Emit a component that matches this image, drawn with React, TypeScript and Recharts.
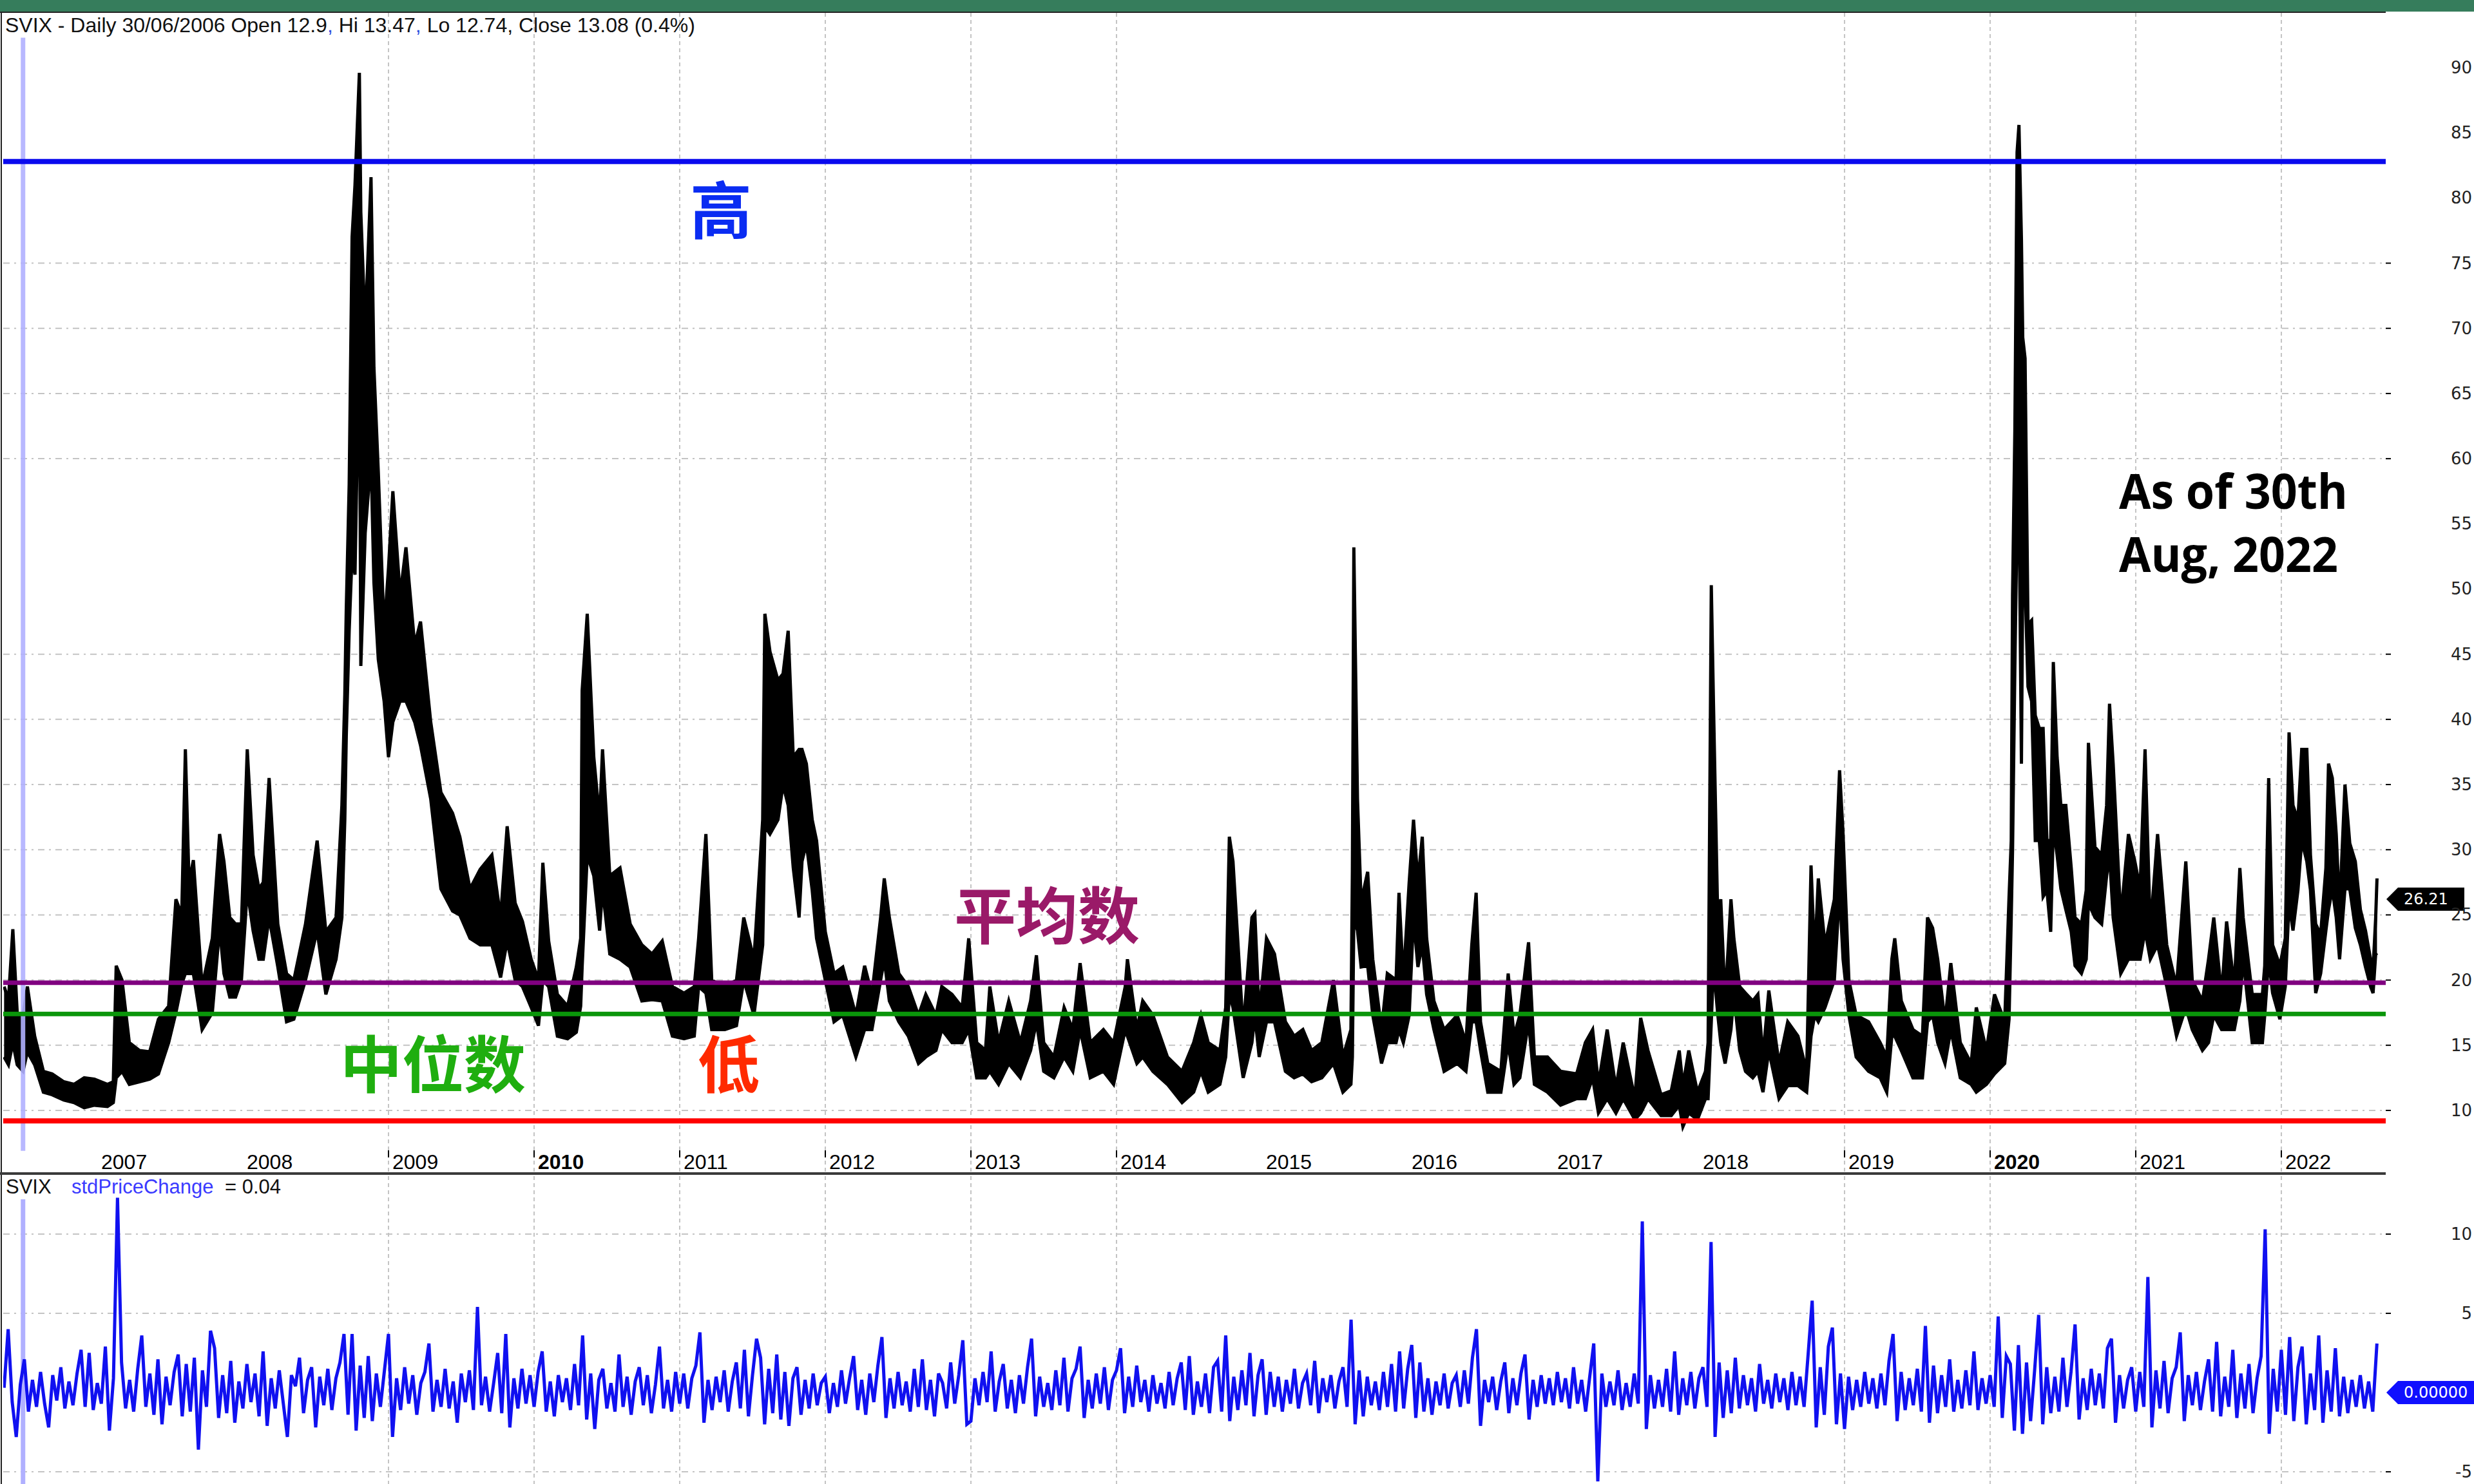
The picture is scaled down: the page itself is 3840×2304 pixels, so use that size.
import React from "react";
import { ComposedChart, Area, Line, XAxis, YAxis, ReferenceLine, ReferenceDot, CartesianGrid } from "recharts";

type Bar3 = [number, number, number]; // [date (decimal year), high, low]

const vix2006: Bar3[] = [
  [2006.36, 19.5, 14.1], [2006.39, 18.5, 13.5], [2006.42, 23.9, 15.2], [2006.45, 17.5, 13.5], [2006.49, 17.3, 13.0],
  [2006.52, 19.5, 14.5], [2006.57, 15.7, 13.5], [2006.63, 13.0, 11.4], [2006.69, 12.8, 11.2], [2006.77, 12.2, 10.8],
  [2006.84, 12.0, 10.6], [2006.91, 12.5, 10.2], [2006.98, 12.4, 10.4],
];
const vix2007: Bar3[] = [
  [2007.07, 12.0, 10.3], [2007.11, 12.2, 10.6], [2007.13, 21.1, 12.5], [2007.17, 20.0, 13.0], [2007.22, 15.2, 12.0],
  [2007.29, 14.6, 12.2], [2007.36, 14.5, 12.4], [2007.42, 17.0, 12.8], [2007.49, 18.0, 15.2], [2007.54, 26.2, 17.5],
  [2007.58, 25.0, 19.7], [2007.605, 37.7, 20.5], [2007.63, 27.5, 20.5], [2007.66, 29.2, 20.5], [2007.72, 19.5, 16.2],
  [2007.79, 23.2, 17.5], [2007.84, 31.2, 24.0], [2007.87, 29.1, 20.5], [2007.91, 24.8, 18.7], [2007.95, 24.3, 18.7],
  [2007.99, 24.3, 20.0],
];
const vix2008: Bar3[] = [
  [2008.03, 37.7, 26.9], [2008.07, 29.6, 23.8], [2008.11, 27.0, 21.6], [2008.14, 27.5, 21.6], [2008.18, 35.5, 24.8],
  [2008.24, 24.3, 21.0], [2008.30, 20.5, 16.8], [2008.35, 20.0, 17.0], [2008.43, 24.3, 20.0], [2008.51, 30.7, 23.8],
  [2008.57, 23.7, 18.9], [2008.64, 24.8, 21.6], [2008.68, 33.4, 24.8], [2008.70, 41.9, 32.3], [2008.71, 48.4, 38.7],
  [2008.73, 58.0, 46.8], [2008.75, 77.0, 52.7], [2008.77, 81.0, 51.1], [2008.80, 89.6, 69.8], [2008.81, 78.9, 44.1],
  [2008.84, 70.0, 54.3], [2008.88, 81.6, 60.0], [2008.90, 67.0, 50.5], [2008.93, 59.0, 44.6], [2008.97, 46.8, 41.4],
];
const vix2009: Bar3[] = [
  [2009.00, 51.6, 37.1], [2009.03, 57.5, 39.8], [2009.08, 49.5, 41.4], [2009.12, 53.2, 41.4], [2009.18, 45.7, 39.8],
  [2009.22, 47.5, 38.0], [2009.29, 39.8, 33.9], [2009.36, 34.4, 27.0], [2009.44, 32.8, 25.3], [2009.49, 31.0, 25.0],
  [2009.56, 27.0, 23.2], [2009.63, 28.5, 22.7], [2009.71, 29.6, 22.7], [2009.77, 24.8, 20.2], [2009.815, 31.8, 23.0],
  [2009.87, 25.9, 20.0], [2009.92, 24.5, 19.5], [2009.98, 21.6, 17.9],
];
const vix2010: Bar3[] = [
  [2010.03, 20.0, 16.5], [2010.06, 29.0, 20.0], [2010.10, 23.0, 19.5], [2010.16, 18.9, 15.7], [2010.23, 18.0, 15.5],
  [2010.29, 21.0, 16.0], [2010.32, 23.2, 18.0], [2010.33, 42.2, 21.0], [2010.365, 48.1, 29.6], [2010.41, 37.1, 28.0],
  [2010.45, 32.3, 23.8], [2010.47, 37.7, 27.0], [2010.52, 28.0, 22.0], [2010.59, 28.6, 21.6], [2010.66, 24.3, 21.0],
  [2010.74, 22.7, 18.4], [2010.81, 22.0, 18.5], [2010.88, 23.0, 18.4], [2010.95, 19.5, 15.7],
];
const vix2011: Bar3[] = [
  [2011.03, 19.0, 15.5], [2011.10, 19.5, 15.7], [2011.13, 23.2, 19.5], [2011.18, 31.2, 19.0], [2011.22, 20.0, 16.2],
  [2011.31, 19.5, 16.2], [2011.39, 20.0, 16.5], [2011.44, 24.8, 20.0], [2011.51, 21.6, 17.3], [2011.57, 32.3, 22.7],
  [2011.585, 48.1, 31.8], [2011.62, 45.2, 31.2], [2011.675, 43.0, 32.3], [2011.71, 43.5, 35.0], [2011.745, 46.8, 33.4],
  [2011.78, 37.1, 28.6], [2011.82, 37.7, 24.8], [2011.84, 37.7, 29.1], [2011.87, 36.6, 30.5], [2011.91, 32.3, 26.9],
  [2011.94, 30.7, 23.2],
];
const vix2012: Bar3[] = [
  [2012.00, 23.7, 20.0], [2012.06, 20.5, 16.8], [2012.12, 21.0, 17.3], [2012.21, 17.3, 14.1], [2012.27, 21.1, 16.2],
  [2012.32, 18.9, 16.2], [2012.38, 24.8, 20.0], [2012.405, 27.8, 21.6], [2012.44, 24.8, 18.4], [2012.505, 20.5, 16.8],
  [2012.57, 19.5, 15.7], [2012.64, 17.3, 13.6], [2012.69, 18.9, 14.1], [2012.76, 17.3, 14.6], [2012.80, 19.5, 16.2],
  [2012.87, 18.9, 15.2], [2012.94, 17.9, 15.2], [2012.985, 23.2, 16.2],
];
const vix2013: Bar3[] = [
  [2013.04, 15.2, 12.5], [2013.10, 14.6, 12.5], [2013.13, 19.5, 13.0], [2013.19, 15.2, 12.0], [2013.26, 18.4, 13.6],
  [2013.34, 15.2, 12.5], [2013.41, 18.4, 14.6], [2013.45, 21.9, 16.8], [2013.50, 15.2, 13.0], [2013.57, 14.1, 12.5],
  [2013.64, 17.9, 14.1], [2013.70, 16.2, 13.0], [2013.75, 21.3, 16.2], [2013.82, 15.2, 12.5], [2013.91, 16.2, 13.0],
  [2013.98, 15.2, 12.0],
];
const vix2014: Bar3[] = [
  [2014.06, 19.5, 16.2], [2014.075, 21.6, 15.7], [2014.14, 16.2, 13.6], [2014.18, 18.4, 14.1], [2014.25, 17.3, 13.0],
  [2014.35, 14.1, 12.0], [2014.45, 13.0, 10.6], [2014.53, 15.2, 11.4], [2014.58, 17.3, 13.0], [2014.63, 15.2, 11.4],
  [2014.71, 14.6, 12.0], [2014.75, 17.9, 14.1], [2014.775, 31.0, 18.9], [2014.80, 29.1, 17.9], [2014.87, 16.2, 12.5],
  [2014.93, 24.8, 15.2], [2014.95, 25.1, 17.3], [2014.98, 17.3, 14.1],
];
const vix2015: Bar3[] = [
  [2015.03, 23.2, 16.8], [2015.085, 22.0, 16.8], [2015.16, 16.8, 13.0], [2015.22, 15.7, 12.5], [2015.28, 16.2, 12.8],
  [2015.34, 14.6, 12.2], [2015.41, 15.2, 12.5], [2015.49, 20.0, 13.6], [2015.555, 14.1, 11.4], [2015.61, 16.2, 12.0],
  [2015.62, 28.3, 14.1], [2015.63, 53.2, 24.8], [2015.655, 33.9, 23.8], [2015.68, 26.0, 21.0], [2015.725, 28.3, 21.1],
  [2015.76, 21.6, 17.3], [2015.82, 16.2, 13.6], [2015.86, 20.5, 15.2], [2015.92, 20.0, 15.2], [2015.94, 26.7, 16.2],
  [2015.97, 20.0, 15.2],
];
const vix2016: Bar3[] = [
  [2016.01, 27.5, 17.3], [2016.04, 32.3, 24.8], [2016.07, 27.5, 21.0], [2016.10, 31.0, 22.7], [2016.13, 23.2, 18.9],
  [2016.18, 18.4, 16.2], [2016.25, 16.2, 13.0], [2016.34, 17.3, 13.6], [2016.40, 15.2, 13.0], [2016.44, 22.7, 16.8],
  [2016.47, 26.7, 16.8], [2016.50, 16.8, 14.6], [2016.55, 13.6, 11.4], [2016.64, 13.0, 11.4], [2016.69, 20.5, 15.2],
  [2016.73, 15.7, 12.0], [2016.77, 17.3, 12.5], [2016.83, 22.9, 16.8], [2016.87, 14.1, 12.0], [2016.96, 14.1, 11.4],
];
const vix2017: Bar3[] = [
  [2017.05, 13.0, 10.4], [2017.16, 12.8, 10.9], [2017.22, 15.2, 10.9], [2017.27, 16.2, 12.5], [2017.31, 12.0, 9.8],
  [2017.37, 16.2, 10.9], [2017.43, 11.7, 9.8], [2017.48, 15.2, 10.9], [2017.56, 10.9, 9.3], [2017.60, 17.1, 9.8],
  [2017.65, 14.6, 10.9], [2017.74, 11.2, 9.6], [2017.81, 11.5, 9.6], [2017.865, 14.6, 10.4], [2017.89, 11.9, 8.75],
  [2017.93, 14.6, 9.8], [2017.99, 11.4, 9.3],
];
const vix2018: Bar3[] = [
  [2018.045, 13.0, 10.9], [2018.063, 15.2, 10.9], [2018.085, 50.3, 16.8], [2018.10, 41.2, 21.1], [2018.13, 24.3, 17.3],
  [2018.15, 26.2, 15.2], [2018.18, 18.4, 13.6], [2018.22, 26.2, 16.2], [2018.24, 23.2, 18.9], [2018.28, 19.5, 14.6],
  [2018.32, 19.0, 13.0], [2018.37, 18.4, 12.5], [2018.405, 18.9, 13.0], [2018.44, 14.1, 11.4], [2018.48, 19.2, 14.6],
  [2018.55, 13.6, 10.9], [2018.61, 16.8, 11.9], [2018.68, 15.7, 11.9], [2018.74, 13.0, 11.4], [2018.77, 28.8, 15.7],
  [2018.795, 21.6, 17.3], [2018.82, 27.8, 16.8], [2018.866, 22.7, 17.9], [2018.93, 26.2, 20.0], [2018.966, 36.1, 26.9],
  [2018.99, 31.2, 21.6],
];
const vix2019: Bar3[] = [
  [2019.03, 20.0, 17.3], [2019.08, 17.3, 14.1], [2019.165, 16.8, 13.0], [2019.245, 15.2, 12.5], [2019.29, 14.1, 11.4],
  [2019.325, 21.6, 15.7], [2019.345, 23.2, 15.7], [2019.39, 18.4, 14.6], [2019.47, 16.2, 12.5], [2019.535, 15.7, 12.5],
  [2019.57, 24.8, 16.8], [2019.605, 24.0, 17.3], [2019.64, 21.6, 15.2], [2019.69, 16.8, 13.6], [2019.73, 21.3, 16.2],
  [2019.795, 15.2, 12.5], [2019.87, 13.6, 12.0], [2019.905, 17.9, 11.4], [2019.975, 14.6, 12.0],
];
const vix2020: Bar3[] = [
  [2020.03, 18.9, 12.8], [2020.10, 16.8, 13.6], [2020.13, 26.4, 17.0], [2020.145, 30.7, 24.8], [2020.154, 49.5, 30.0],
  [2020.17, 62.3, 44.1], [2020.185, 83.5, 55.4], [2020.198, 85.6, 57.5], [2020.215, 76.8, 36.6], [2020.224, 69.3, 51.1],
  [2020.24, 67.7, 50.5], [2020.26, 47.3, 42.5], [2020.285, 47.6, 41.4], [2020.31, 40.3, 30.7], [2020.338, 39.3, 30.7],
  [2020.364, 39.3, 26.4], [2020.39, 30.7, 26.9], [2020.416, 30.7, 23.7], [2020.434, 44.4, 31.8], [2020.46, 37.1, 29.6],
  [2020.486, 33.4, 27.0], [2020.52, 33.4, 25.4], [2020.557, 28.6, 23.7], [2020.583, 24.8, 21.1], [2020.627, 24.3, 20.5],
  [2020.66, 26.9, 21.6], [2020.675, 38.2, 25.9], [2020.72, 30.2, 24.8], [2020.766, 29.6, 24.3], [2020.80, 33.4, 28.0],
  [2020.82, 41.2, 29.6], [2020.845, 36.6, 24.8], [2020.897, 24.8, 20.5], [2020.95, 31.2, 21.6], [2020.994, 29.1, 21.6],
];
const vix2021: Bar3[] = [
  [2021.03, 27.0, 21.6], [2021.064, 37.7, 23.8], [2021.10, 23.8, 21.6], [2021.15, 31.2, 22.7], [2021.213, 22.7, 19.5],
  [2021.28, 19.5, 15.7], [2021.344, 29.1, 17.9], [2021.388, 20.0, 16.2], [2021.458, 18.4, 14.6], [2021.50, 21.6, 15.2],
  [2021.536, 24.8, 17.3], [2021.59, 18.9, 16.2], [2021.624, 24.5, 16.2], [2021.677, 19.5, 16.2], [2021.715, 28.6, 18.4],
  [2021.738, 24.8, 21.6], [2021.80, 18.9, 15.2], [2021.87, 18.9, 15.2], [2021.886, 21.1, 17.3], [2021.913, 35.5, 21.6],
  [2021.94, 22.7, 19.0], [2021.99, 21.1, 17.0],
];
const vix2022: Bar3[] = [
  [2022.027, 23.2, 19.5], [2022.053, 39.0, 25.9], [2022.08, 33.4, 23.8], [2022.114, 32.3, 26.9], [2022.14, 37.7, 30.7],
  [2022.175, 37.7, 29.1], [2022.20, 29.6, 26.9], [2022.236, 24.3, 19.0], [2022.27, 23.5, 20.5], [2022.306, 28.6, 23.8],
  [2022.324, 36.6, 25.4], [2022.35, 35.5, 27.0], [2022.377, 31.2, 24.8], [2022.40, 25.4, 21.6], [2022.437, 35.0, 27.0],
  [2022.47, 30.5, 27.0], [2022.508, 29.1, 24.0], [2022.543, 25.4, 22.7], [2022.578, 23.8, 21.0], [2022.613, 21.6, 19.5],
  [2022.63, 20.8, 19.0], [2022.648, 24.8, 22.0], [2022.657, 27.8, 21.9],
];

// stdPriceChange samples per year (evenly spread over each span)
const std2006 = [0.3, 4.0, -0.6, -2.8, 0.5, 2.1, -1.2, 0.8, -0.9, 1.3, -0.7, -2.2, 1.1, -0.5, 1.6, -1.0, 0.7, -0.8, 1.2, 2.7, -0.9, 2.5, -1.1];
const std2007 = [0.6, -0.7, 2.9, -2.4, 0.9, 12.3, 1.9, -1.0, 0.8, -1.2, 1.5, 3.6, -0.9, 1.2, -1.4, 2.1, -2.0, 1.0, -0.8, 1.3, 2.4, -1.5, 1.8, -1.2, 2.2, -3.6, 1.4, -0.9, 3.9, 2.8, -1.6, 1.1, -1.3, 2.0, -1.9, 0.7];
const std2008 = [-1.0, 1.8, -0.6, 1.2, -1.5, 2.6, -2.1, 0.9, -1.0, 1.4, -0.7, -2.8, 1.1, 0.4, 2.2, -1.3, 0.8, 1.6, -2.2, 1.0, -0.8, 1.5, -1.1, 0.9, 1.9, 3.7, -1.4, 3.7, -2.4, 1.7, -1.6, 2.3, -1.8, 1.2, -0.9, 1.4];
const std2009 = [3.7, -2.8, 0.9, -1.1, 1.6, -0.7, 1.1, -1.4, 0.6, 1.3, 3.1, -1.2, 0.8, -0.9, 1.5, -1.0, 0.7, -1.9, 1.2, -0.6, 1.4, -1.1, 5.4, -0.8, 1.0, -1.2, 0.6, 2.5, -1.3, 3.7, -2.2, 0.9, -1.0, 1.5, -0.7, 1.1];
const std2010 = [-0.9, 1.3, 2.6, -1.2, 0.7, -1.5, 1.1, -0.6, 0.9, -1.1, 1.8, -0.8, 3.6, -1.7, 1.2, -2.3, 0.8, 1.5, -1.0, 0.6, -1.2, 2.4, -0.9, 1.0, -1.4, 0.7, 1.6, -0.8, 1.1, -1.3, 0.5, 2.9, -1.0, 0.8, -1.2, 1.3];
const std2011 = [-0.7, 1.2, -1.0, 0.9, 1.7, 3.8, -1.9, 0.8, -1.1, 1.0, -0.6, 1.4, -1.2, 0.7, 1.9, -1.0, 2.7, -1.5, 1.1, 3.4, 2.2, -2.0, 1.5, -1.3, 2.4, -1.7, 1.3, -2.1, 0.9, 1.6, -1.4, 0.8, -1.0, 1.2, -0.8, 0.6];
const std2012 = [1.0, -1.3, 0.6, -0.9, 1.4, -0.7, 0.9, 2.3, -1.1, 0.8, -1.4, 1.2, -0.6, 1.7, 3.5, -1.6, 0.9, -1.0, 1.3, -0.8, 0.7, -1.2, 1.5, -0.9, 2.1, -1.1, 0.8, -1.5, 1.2, 0.6, -1.0, 1.9, -0.7, 1.1, 3.3, -2.0];
const std2013 = [-1.8, 0.9, -0.8, 1.3, -0.6, 2.6, -1.2, 0.7, 1.8, -1.0, 0.8, -1.3, 1.1, -0.7, 1.6, 3.4, -1.5, 1.0, -0.9, 0.6, -1.1, 1.4, -0.8, 2.2, -1.2, 0.9, 1.5, 2.9, -1.6, 0.8, -1.0, 1.2, -0.7, 1.6, -1.1, 0.8];
const std2014 = [1.4, 2.8, -1.3, 1.0, -0.9, 1.7, -0.6, 0.8, -1.2, 1.1, -0.7, 0.6, -1.0, 1.3, -0.8, 0.9, 1.9, -1.1, 2.3, -1.4, 0.7, -0.9, 1.2, -1.3, 1.6, 2.0, -1.2, 3.6, -1.8, 1.0, -1.1, 1.4, -0.8, 2.5, -1.5, 1.1];
const std2015 = [2.1, -1.4, 1.3, -0.9, 1.0, -1.2, 0.8, -0.7, 1.5, -1.0, 0.6, 1.2, -0.8, 2.0, -1.3, 0.9, -0.6, 1.1, -1.0, 0.7, 1.6, -0.9, 4.6, -2.0, 1.4, -1.5, 1.0, -0.8, 0.7, -1.1, 1.3, -0.9, 1.8, -1.2, 2.6, -1.0];
const std2016 = [1.5, 3.0, -1.6, 1.9, -1.2, 0.9, -1.4, 0.7, -0.8, 1.2, -1.0, 0.6, 1.1, -0.9, 1.4, -0.7, 2.2, 4.0, -2.1, 0.8, -0.6, 1.0, -1.1, 0.7, 1.9, -1.3, 0.9, -0.8, 1.2, 2.4, -1.7, 0.8, -0.9, 1.1, -0.7, 0.9];
const std2017 = [-0.8, 1.3, -0.6, 0.9, -1.0, 1.6, -0.7, 0.8, -1.2, 1.0, 3.1, -5.6, 1.2, -0.9, 0.7, -0.8, 1.4, -1.1, 0.6, -0.9, 1.2, -0.7, 10.8, -2.3, 1.1, -1.0, 0.8, -0.9, 1.5, -1.2, 2.6, -1.4, 0.9, -0.8, 1.3, -1.0];
const std2018 = [0.9, 1.6, -0.9, 9.5, -2.8, 1.9, -1.6, 1.4, -1.3, 2.2, -1.0, 1.1, -0.8, 0.9, -1.2, 1.8, -0.7, 0.8, -1.0, 1.2, -0.6, 0.9, -1.1, 1.3, -0.8, 1.0, -0.9, 2.4, 5.8, -2.2, 1.6, -1.4, 2.9, 4.1, -2.0, 1.2];
const std2019 = [-2.3, 1.0, -1.1, 0.8, -0.9, 1.3, -0.7, 0.9, -1.0, 1.2, -0.8, 2.0, 3.7, -1.8, 1.3, -1.1, 0.9, -0.8, 1.5, -1.2, 4.2, -1.9, 1.7, -1.3, 1.1, -0.9, 2.1, -1.2, 0.8, -1.0, 1.4, -0.8, 2.6, -1.1, 0.9, -0.7];
const std2020 = [1.1, -0.9, 4.8, -1.6, 2.3, 1.8, -2.4, 3.0, -2.6, 1.9, -1.8, 1.4, 4.9, -2.0, 1.6, -1.3, 1.0, -1.2, 2.2, -0.9, 1.3, 4.3, -1.7, 0.9, -1.1, 1.5, -0.8, 1.2, -1.0, 2.8, 3.4, -1.9, 1.1, -1.0, 0.8, 1.6];
const std2021 = [-1.2, 1.3, -0.9, 7.3, -2.2, 1.4, -1.0, 2.0, -1.3, 0.9, 1.6, 3.8, -1.8, 1.1, -0.8, 1.3, -1.1, 0.7, 2.1, -1.2, 3.2, -1.5, 1.0, -0.9, 2.7, -1.6, 1.2, -1.0, 1.8, -1.3, 0.9, 2.3, 10.3, -2.6, 1.5, -1.2];
const std2022 = [2.7, -1.4, 3.5, -1.8, 1.6, 2.9, -2.0, 1.2, -1.1, 3.6, -1.9, 1.4, -1.2, 2.8, -1.5, 1.0, -1.3, 0.8, -0.9, 1.1, -1.0, 0.7, -1.2, 3.1];

const stdSeries = [std2006, std2007, std2008, std2009, std2010, std2011, std2012, std2013, std2014, std2015, std2016, std2017, std2018, std2019, std2020, std2021, std2022];
const stdSpans: [number, number][] = [
  [2006.36, 2007], [2007, 2008], [2008, 2009], [2009, 2010], [2010, 2011], [2011, 2012], [2012, 2013], [2013, 2014],
  [2014, 2015], [2015, 2016], [2016, 2017], [2017, 2018], [2018, 2019], [2019, 2020], [2020, 2021], [2021, 2022], [2022, 2022.685],
];

const levelHigh = 82.8;
const levelMean = 19.8;
const levelMedian = 17.4;
const levelLow = 9.2;
const lastClose = 26.21;
const cursorDate = 2006.49;

const yearTicks = [2007, 2008, 2009, 2010, 2011, 2012, 2013, 2014, 2015, 2016, 2017, 2018, 2019, 2020, 2021, 2022];
const gridYears = [2009, 2010, 2011, 2012, 2013, 2014, 2019, 2020, 2021, 2022];
const boldYears = [2010, 2020];
const mainTicks = [10, 15, 20, 25, 30, 35, 40, 45, 50, 55, 60, 65, 70, 75, 80, 85, 90];
const mainGridValues = [10, 15, 20, 25, 30, 35, 40, 45, 60, 65, 70, 75];
const stdTicks = [10, 5, 0, -5];
const stdGridValues = [10, 5, -5];

const X_DOMAIN: [number, number] = [2006.354, 2022.717];
const MAIN_DOMAIN: [number, number] = [5.157, 94.2];
const STD_DOMAIN: [number, number] = [-5.77, 13.66];

const mainData = [
  ...vix2006, ...vix2007, ...vix2008, ...vix2009, ...vix2010, ...vix2011, ...vix2012, ...vix2013, ...vix2014,
  ...vix2015, ...vix2016, ...vix2017, ...vix2018, ...vix2019, ...vix2020, ...vix2021, ...vix2022,
].map(([t, hi, lo]) => ({ t, range: [lo, hi] }));

const stdData: { t: number; v: number }[] = [];
stdSeries.forEach((vals, i) => {
  const [a, b] = stdSpans[i];
  vals.forEach((v, k) => stdData.push({ t: a + ((b - a) * k) / vals.length, v }));
});

const SANS = "'Liberation Sans', Arial, sans-serif";
const AXISF = "'DejaVu Sans', Verdana, sans-serif";
const CJK = "'Noto Sans CJK SC', sans-serif";

const YearTick = (props: any) => {
  const { x, y, payload } = props;
  const yr = payload.value;
  return (
    <g>
      {gridYears.includes(yr) && <line x1={x} x2={x} y1={y - 36} y2={y - 25} stroke="#000" strokeWidth={2} />}
      <text x={x + 6} y={y - 7} fontFamily={SANS} fontSize={32} fill="#000" fontWeight={boldYears.includes(yr) ? 700 : 400}>
        {yr}
      </text>
    </g>
  );
};

const MainYTick = (props: any) => {
  const { x, y, payload } = props;
  const v = payload.value;
  return (
    <g>
      {mainGridValues.includes(v) && <line x1={x} x2={x + 8} y1={y} y2={y} stroke="#000" strokeWidth={2} />}
      <text x={x + 134} y={y} textAnchor="end" dominantBaseline="central" fontFamily={AXISF} fontSize={26} fill="#222">
        {v}
      </text>
    </g>
  );
};

const StdYTick = (props: any) => {
  const { x, y, payload } = props;
  const v = payload.value;
  return (
    <g>
      {stdGridValues.includes(v) && <line x1={x} x2={x + 8} y1={y} y2={y} stroke="#000" strokeWidth={2} />}
      {v !== 0 && (
        <text x={x + 134} y={y} textAnchor="end" dominantBaseline="central" fontFamily={AXISF} fontSize={26} fill="#222">
          {v}
        </text>
      )}
    </g>
  );
};

const Tag = ({ cx, cy, fill, label, w }: any) => (
  <g>
    <polygon points={`${cx + 1},${cy} ${cx + 19},${cy - 18} ${cx + w},${cy - 18} ${cx + w},${cy + 18} ${cx + 19},${cy + 18}`} fill={fill} />
    <text x={cx + 28} y={cy} dominantBaseline="central" fontFamily={AXISF} fontSize={24} fill="#fff">
      {label}
    </text>
  </g>
);

export default function App() {
  return (
    <div style={{ position: "absolute", left: 0, top: 0, width: 3840, height: 2304, background: "#fff", overflow: "hidden" }}>
      {/* top green bar */}
      <div style={{ position: "absolute", left: 0, top: 0, width: 3840, height: 18, background: "#367d5c" }} />
      <div style={{ position: "absolute", left: 0, top: 18, width: 3703, height: 2, background: "#222" }} />
      <div style={{ position: "absolute", left: 1, top: 18, width: 2, height: 2286, background: "#222" }} />

      {/* main pane */}
      <div style={{ position: "absolute", left: 0, top: 20 }}>
        <ComposedChart width={3840} height={1803} data={mainData} margin={{ top: 0, right: 0, left: 5, bottom: 0 }}>
          <CartesianGrid vertical={false} horizontalValues={mainGridValues} stroke="#c4c4c4" strokeWidth={2} strokeDasharray="10 7 3 7" />
          <CartesianGrid horizontal={false} verticalValues={gridYears} stroke="#c4c4c4" strokeWidth={2} strokeDasharray="6 5" />
          <XAxis
            type="number"
            dataKey="t"
            domain={X_DOMAIN}
            allowDataOverflow
            ticks={yearTicks}
            interval={0}
            height={1}
            axisLine={false}
            tickLine={false}
            tickSize={0}
            tickMargin={0}
            tick={<YearTick />}
          />
          <YAxis
            orientation="right"
            type="number"
            domain={MAIN_DOMAIN}
            allowDataOverflow
            ticks={mainTicks}
            interval={0}
            width={137}
            axisLine={false}
            tickLine={false}
            tickSize={0}
            tickMargin={0}
            tick={<MainYTick />}
          />
          <Area type="linear" dataKey="range" stroke="#000" strokeWidth={5} strokeLinejoin="miter" fill="#000" fillOpacity={1} isAnimationActive={false} dot={false} activeDot={false} />
          <ReferenceLine
            segment={[{ x: cursorDate, y: 92.3 }, { x: cursorDate, y: 6.9 }]}
            stroke="#b0b0ff"
            strokeWidth={7}
            strokeOpacity={0.9}
          />
          <ReferenceLine y={levelHigh} stroke="#0a0aee" strokeWidth={8} />
          <ReferenceLine y={levelMean} stroke="#800080" strokeWidth={7} />
          <ReferenceLine y={levelMedian} stroke="#0a960a" strokeWidth={7} />
          <ReferenceLine y={levelLow} stroke="#ff0000" strokeWidth={8} />
          <ReferenceDot x={X_DOMAIN[1]} y={lastClose} r={1} ifOverflow="visible" shape={(p: any) => <Tag cx={p.cx} cy={p.cy} fill="#000" label="26.21" w={122} />} />
        </ComposedChart>
      </div>

      {/* separator */}
      <div style={{ position: "absolute", left: 0, top: 1820, width: 3703, height: 4, background: "#3a3a3a" }} />

      {/* lower pane */}
      <div style={{ position: "absolute", left: 0, top: 1826 }}>
        <ComposedChart width={3840} height={478} data={stdData} margin={{ top: 0, right: 0, left: 5, bottom: 0 }}>
          <CartesianGrid vertical={false} horizontalValues={stdGridValues} stroke="#c4c4c4" strokeWidth={2} strokeDasharray="10 7 3 7" />
          <CartesianGrid horizontal={false} verticalValues={gridYears} stroke="#c4c4c4" strokeWidth={2} strokeDasharray="6 5" />
          <XAxis type="number" dataKey="t" domain={X_DOMAIN} allowDataOverflow ticks={yearTicks} hide />
          <YAxis
            orientation="right"
            type="number"
            domain={STD_DOMAIN}
            allowDataOverflow
            ticks={stdTicks}
            interval={0}
            width={137}
            axisLine={false}
            tickLine={false}
            tickSize={0}
            tickMargin={0}
            tick={<StdYTick />}
          />
          <ReferenceLine
            segment={[{ x: cursorDate, y: 12.2 }, { x: cursorDate, y: -5.77 }]}
            stroke="#b0b0ff"
            strokeWidth={7}
          />
          <Line type="linear" dataKey="v" stroke="#1010f0" strokeWidth={5} strokeLinejoin="miter" dot={false} activeDot={false} isAnimationActive={false} />
          <ReferenceDot x={X_DOMAIN[1]} y={0} r={1} ifOverflow="visible" shape={(p: any) => <Tag cx={p.cx} cy={p.cy} fill="#1010ff" label="0.00000" w={140} />} />
        </ComposedChart>
      </div>

      {/* text overlay */}
      <svg width={3840} height={2304} style={{ position: "absolute", left: 0, top: 0, pointerEvents: "none" }}>
        <text x={8} y={50} fontFamily={SANS} fontSize={32} fill="#111">
          SVIX - Daily 30/06/2006 Open 12.9<tspan fill="#3050e0">,</tspan> Hi 13.47<tspan fill="#3050e0">,</tspan> Lo 12.74, Close 13.08 (0.4%)
        </text>
        <text x={1119} y={320} textAnchor="middle" dominantBaseline="central" fontFamily={CJK} fontWeight={700} fontSize={96} fill="#0a2cf2">高</text>
        <text x={1625} y={1415} textAnchor="middle" dominantBaseline="central" fontFamily={CJK} fontWeight={700} fontSize={96} fill="#9a1a68">平均数</text>
        <text x={672} y={1646} textAnchor="middle" dominantBaseline="central" fontFamily={CJK} fontWeight={700} fontSize={96} fill="#1fae0f">中位数</text>
        <text x={1131} y={1646} textAnchor="middle" dominantBaseline="central" fontFamily={CJK} fontWeight={700} fontSize={96} fill="#ff2a00">低</text>
        <text x={3289} y={790} fontFamily="'Open Sans', sans-serif" fontWeight={700} fontSize={76} fill="#000" textLength={355} lengthAdjust="spacingAndGlyphs">As of 30th</text>
        <text x={3289} y={888} fontFamily="'Open Sans', sans-serif" fontWeight={700} fontSize={76} fill="#000" textLength={340} lengthAdjust="spacingAndGlyphs">Aug, 2022</text>
        <text x={9} y={1853} fontFamily={SANS} fontSize={31} fill="#111">SVIX</text>
        <text x={111} y={1853} fontFamily={SANS} fontSize={31} fill="#3a3aff">stdPriceChange</text>
        <text x={349} y={1853} fontFamily={SANS} fontSize={31} fill="#111">= 0.04</text>
      </svg>
    </div>
  );
}
